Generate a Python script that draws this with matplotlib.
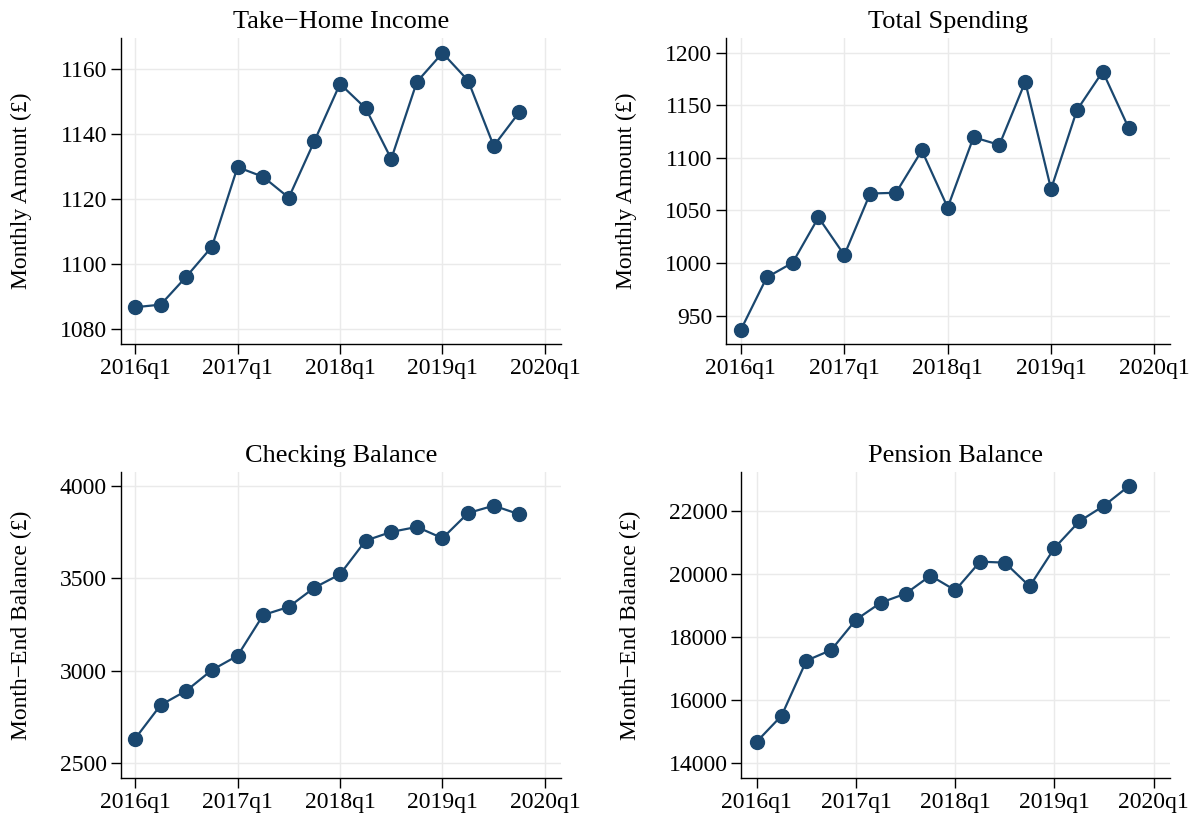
import matplotlib
matplotlib.use("Agg")
import matplotlib.pyplot as plt
import numpy as np

# quarterly series, 2016q1 .. 2019q4
quarters = ["2016q1", "2016q2", "2016q3", "2016q4",
            "2017q1", "2017q2", "2017q3", "2017q4",
            "2018q1", "2018q2", "2018q3", "2018q4",
            "2019q1", "2019q2", "2019q3", "2019q4"]
tick_labels = ["2016q1", "2017q1", "2018q1", "2019q1", "2020q1"]

income = [1086.7, 1087.5, 1096.1, 1105.3, 1129.8, 1126.8, 1120.4, 1137.8,
          1155.4, 1147.9, 1132.3, 1156.0, 1164.9, 1156.4, 1136.3, 1146.7]
spending = [936.7, 986.4, 1000.3, 1043.4, 1007.6, 1066.1, 1066.8, 1107.0,
            1052.8, 1119.6, 1112.3, 1172.2, 1070.3, 1145.3, 1182.0, 1128.5]
checking = [2633, 2815, 2892, 3004, 3081, 3301, 3345, 3449,
            3521, 3703, 3750, 3777, 3716, 3852, 3892, 3845]
pension = [14686, 15509, 17251, 17588, 18549, 19087, 19372, 19942,
           19478, 20385, 20354, 19604, 20818, 21662, 22158, 22781]

navy = "#1a476f"
grid_col = "#eaeaea"

plt.rcParams["font.family"] = ["Liberation Serif", "DejaVu Serif"]
plt.rcParams["font.size"] = 17

fig = plt.figure(figsize=(11.92, 8.19), dpi=100)

panels = [
    # rect, title, ylabel, data, yticks, ylim, xlim
    ([0.1015, 0.580, 0.369, 0.3736], "Take\u2212Home Income", "Monthly Amount (£)",
     income, [1080, 1100, 1120, 1140, 1160], (1075.4, 1169.5), (-0.55, 16.62)),
    ([0.609, 0.580, 0.3725, 0.3736], "Total Spending", "Monthly Amount (£)",
     spending, [950, 1000, 1050, 1100, 1150, 1200], (923.1, 1213.9), (-0.58, 16.6)),
    ([0.1015, 0.0497, 0.369, 0.3744], "Checking Balance", "Month\u2212End Balance (£)",
     checking, [2500, 3000, 3500, 4000], (2419, 4075.6), (-0.55, 16.62)),
    ([0.622, 0.0497, 0.3594, 0.3744], "Pension Balance", "Month\u2212End Balance (£)",
     pension, [14000, 16000, 18000, 20000, 22000], (13525, 23235), (-0.62, 16.65)),
]

for rect, title, ylabel, vals, yticks, ylim, xlim in panels:
    ax = fig.add_axes(rect)
    x = np.arange(len(vals))
    ax.plot(x, vals, color=navy, lw=1.6, marker="o", markersize=10,
            markerfacecolor=navy, markeredgecolor=navy, zorder=3)
    ax.set_xticks(np.arange(0, 17, 4))
    ax.set_xticklabels(tick_labels)
    ax.set_yticks(yticks)
    ax.set_ylim(*ylim)
    ax.set_xlim(*xlim)
    ax.grid(True, color=grid_col, lw=1.0, zorder=0)
    ax.set_axisbelow(True)
    for s in ["top", "right"]:
        ax.spines[s].set_visible(False)
    ax.spines["left"].set_linewidth(1.0)
    ax.spines["bottom"].set_linewidth(1.0)
    ax.tick_params(direction="out", length=7, width=1.0, labelsize=17, pad=3)
    ax.set_title(title, fontsize=19, pad=7)
    ax.set_ylabel(ylabel, fontsize=17, labelpad=20)

fig.savefig("out.png", dpi=100)
